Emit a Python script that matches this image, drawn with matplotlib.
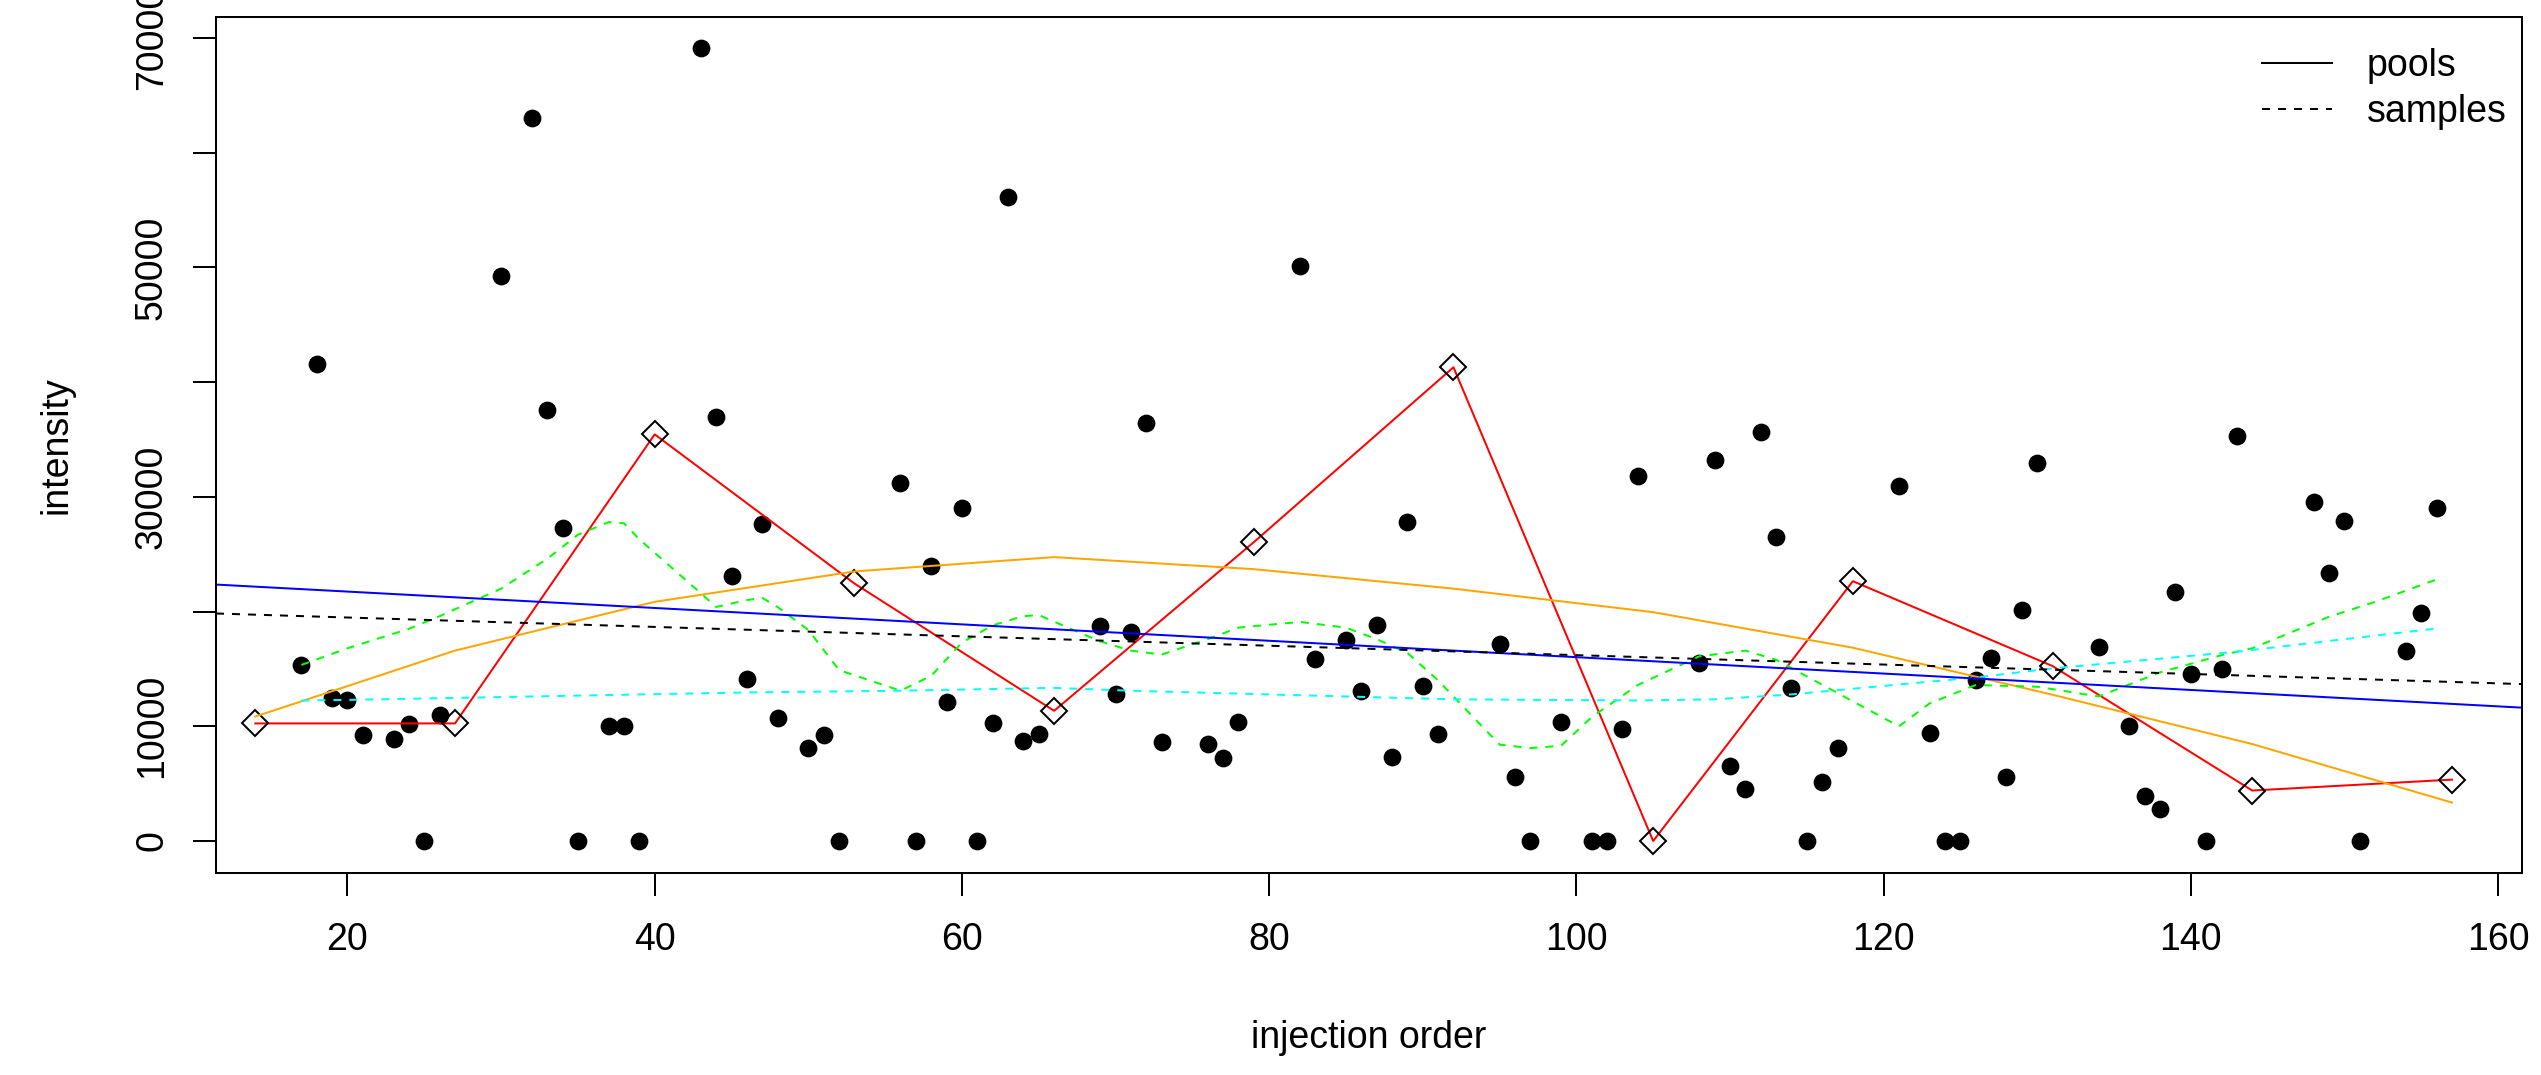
import matplotlib
matplotlib.use("Agg")
import matplotlib.pyplot as plt
import numpy as np
from matplotlib.lines import Line2D

plt.rcParams['font.family'] = ['Liberation Sans', 'DejaVu Sans']

# samples: injection order and intensity
sample_x = [17, 18, 19, 20, 21, 23, 24, 25, 26, 30, 32, 33, 34, 35, 37, 38, 39,
            43, 44, 45, 46, 47, 48, 50, 51, 52, 56, 57, 58, 59, 60, 61, 62, 63,
            64, 65, 69, 70, 71, 72, 73, 76, 77, 78, 82, 83, 85, 86, 87, 88, 89,
            90, 91, 95, 96, 97, 99, 101, 102, 103, 104, 108, 109, 110, 111, 112,
            113, 114, 115, 116, 117, 121, 123, 124, 125, 126, 127, 128, 129, 130,
            134, 136, 137, 138, 139, 140, 141, 142, 143, 148, 149, 150, 151, 154,
            155, 156]
sample_y = [15350, 41600, 12500, 12300, 9200, 8850, 10200, 0, 11000, 49250, 63000,
            37600, 27250, 0, 10050, 10050, 0, 69100, 37000, 23100, 14100, 27650,
            10700, 8150, 9200, 0, 31250, 0, 24000, 12100, 29050, 0, 10250, 56150,
            8750, 9350, 18750, 12850, 18250, 36400, 8650, 8450, 7250, 10400, 50150,
            15900, 17500, 13050, 18800, 7350, 27850, 13500, 9300, 17200, 5600, 0,
            10350, 0, 0, 9800, 31850, 15500, 33250, 6500, 4500, 35700, 26500, 13350,
            0, 5100, 8150, 30950, 9400, 0, 0, 14000, 15950, 5600, 20150, 32950,
            16950, 10050, 3950, 2780, 21700, 14520, 0, 15000, 35300, 29550, 23350,
            27900, 0, 16600, 19850, 29050]

# pools (QC)
pool_x = [14, 27, 40, 53, 66, 79, 92, 105, 118, 131, 144, 157]
pool_y = [10250, 10250, 35450, 22450, 11350, 26050, 41300, 0, 22650, 15250, 4400, 5350]

# smoothed trend of pools (orange)
pool_smooth = [10850, 16600, 20850, 23500, 24750, 23700, 22000, 19950, 16850, 12750, 8450, 3350]

# smoothed trends of samples (green, cyan)
green_x = [17, 20, 24, 26, 30, 33, 35, 37, 38, 39, 43, 44, 46, 47, 48, 50, 52, 56,
           58, 60, 62, 64, 65, 69, 71, 73, 76, 78, 82, 85, 87, 89, 91, 95, 97, 99,
           101, 104, 108, 111, 113, 117, 121, 123, 126, 130, 134, 138, 142, 144,
           149, 152, 156]
green_y = [15350, 16800, 18500, 19600, 22000, 24600, 26700, 27800, 27700, 26300,
           21600, 20400, 21000, 21200, 20400, 18400, 14900, 13100, 14400, 17300,
           18800, 19600, 19700, 17400, 16600, 16250, 17600, 18600, 19100, 18600,
           17600, 16400, 14000, 8400, 8100, 8300, 10800, 13600, 16100, 16600, 15800,
           12900, 10000, 12000, 13600, 13450, 12600, 14700, 16200, 16800, 19550,
           20850, 22800]
cyan_x = [17, 20, 30, 46, 56, 66, 71, 85, 92, 104, 109, 114, 126, 131, 143, 156]
cyan_y = [12250, 12300, 12550, 12950, 13100, 13350, 13100, 12600, 12350, 12250,
          12350, 12780, 14260, 15050, 16500, 18530]

sx = np.array(sample_x, dtype=float)
sy = np.array(sample_y, dtype=float)
px = np.array(pool_x, dtype=float)
py = np.array(pool_y, dtype=float)

fig = plt.figure(figsize=(25.41, 10.75), dpi=100)
ax = fig.add_axes([0.0850, 0.18819, 0.90752, 0.79628])

lw = 1.44
dash = (0, (4, 4))

ax.plot(sx, sy, 'o', color='black', ms=12.8, mec='black', mew=0)
ax.plot(px, py, color='#FF0000', lw=lw)
ax.plot(px, py, 'D', mfc='none', mec='black', ms=13.3, mew=lw)
ax.plot(px, pool_smooth, color='#FFA500', lw=lw)
ax.plot(green_x, green_y, color='#00FF00', lw=lw, linestyle=dash)
ax.plot(cyan_x, cyan_y, color='#00FFFF', lw=lw, linestyle=dash)

# linear trends (pools solid blue, samples dashed black)
bp = np.polyfit(px, py, 1)
bs = np.polyfit(sx, sy, 1)
ax.axline((0, bp[1]), slope=bp[0], color='#0000FF', lw=lw)
ax.axline((0, bs[1]), slope=bs[0], color='black', lw=lw, linestyle=dash)

# R-style limits: 4% padding
xr = sx.max() - sx.min()
ax.set_xlim(sx.min() - 0.04 * xr, sx.max() + 0.04 * xr)
ally = np.concatenate([sy, py])
yr = ally.max() - ally.min()
ax.set_ylim(ally.min() - 0.04 * yr, ally.max() + 0.04 * yr)

ax.set_xticks(np.arange(20, 161, 20))
ax.set_yticks(np.arange(0, 70001, 10000))
ax.set_yticklabels(['0', '10000', '', '30000', '', '50000', '', '70000'])
ax.tick_params(axis='both', direction='out', length=16.6, width=lw, labelsize=27)
ax.tick_params(axis='x', pad=19)
ax.tick_params(axis='y', pad=16.5)
for lbl in ax.get_yticklabels():
    lbl.set_rotation(90)
    lbl.set_va('center')
for sp in ax.spines.values():
    sp.set_linewidth(lw)

fig.text(0.5387, 0.02512, 'injection order', ha='center', va='baseline', fontsize=27)
fig.text(0.02625, 0.58633, 'intensity', ha='center', va='baseline', fontsize=27,
         rotation=90, rotation_mode='anchor')

handles = [Line2D([], [], color='black', lw=lw),
           Line2D([], [], color='black', lw=lw, linestyle=dash)]
ax.legend(handles, ['pools', 'samples'], loc='upper left',
          bbox_to_anchor=(2261.7 / 2541, 1 - 48 / 1075), bbox_transform=fig.transFigure,
          frameon=False, fontsize=27, handlelength=1.87, handletextpad=0.93,
          labelspacing=0.28, borderpad=0, borderaxespad=0)

fig.savefig('out.png', dpi=100)
